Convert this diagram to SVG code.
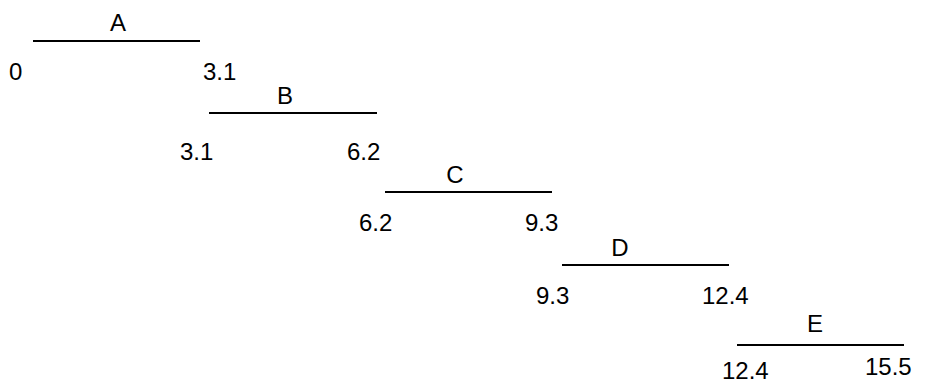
<svg xmlns="http://www.w3.org/2000/svg" width="926" height="383" viewBox="0 0 926 383">
<style>
text{font-family:"Liberation Sans",Arial,sans-serif;font-size:24px;fill:#000}
.t{text-anchor:middle}
line{stroke:#000;stroke-width:2}
</style>
<rect width="926" height="383" fill="#fff"/>
<g id="connectors">
<line x1="33" y1="41" x2="200" y2="41"/>
<line x1="209" y1="113" x2="377" y2="113"/>
<line x1="385" y1="192" x2="552" y2="192"/>
<line x1="562" y1="265" x2="729" y2="265"/>
<line x1="737" y1="345" x2="904" y2="345"/>
</g>
<g id="A"><text class="t" x="118" y="31">A</text><text x="9" y="80">0</text><text x="203" y="80">3.1</text></g>
<g id="B"><text class="t" x="285" y="104">B</text><text x="180" y="160">3.1</text><text x="347" y="160">6.2</text></g>
<g id="C"><text class="t" x="455" y="183">C</text><text x="359" y="231">6.2</text><text x="525" y="231">9.3</text></g>
<g id="D"><text class="t" x="620" y="256">D</text><text x="536" y="304">9.3</text><text x="702" y="304">12.4</text></g>
<g id="E"><text class="t" x="815" y="332">E</text><text x="722" y="379">12.4</text><text x="865" y="375">15.5</text></g>
</svg>
